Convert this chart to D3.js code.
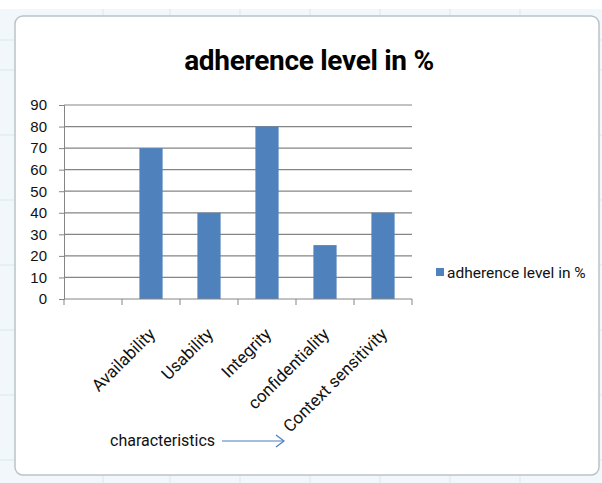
<!DOCTYPE html>
<html>
<head>
<meta charset="utf-8">
<script src="https://cdn.jsdelivr.net/npm/d3@7"></script>
<style>
  html, body { margin: 0; padding: 0; background: #fff; }
  svg { display: block; font-family: "Roboto", "Noto Sans", sans-serif; }
</style>
</head>
<body>
<div id="chart"></div>
<script>
// chart data (first category slot is empty in the original)
const categories = ["", "Availability", "Usability", "Integrity", "confidentiality", "Context sensitivity"];
const values = [null, 70, 40, 80, 25, 40];
const yTicks = [0, 10, 20, 30, 40, 50, 60, 70, 80, 90];
const titleText = "adherence level in %";
const seriesName = "adherence level in %";
const axisNote = "characteristics";

const width = 602, height = 483;
const barColor = "#4f81bd";

const svg = d3.select("#chart").append("svg")
  .attr("width", width)
  .attr("height", height);

// spreadsheet strip around the chart object
svg.append("rect").attr("width", width).attr("height", height).attr("fill", "#f1f7fa");
[103, 170, 240, 310, 380, 450, 520].forEach(x => {
  svg.append("line").attr("x1", x).attr("x2", x).attr("y1", 0).attr("y2", height)
    .attr("stroke", "#dbe8ee");
});
[40, 70, 135, 200, 265, 330, 395, 460].forEach(y => {
  svg.append("line").attr("x1", 0).attr("x2", width).attr("y1", y).attr("y2", y)
    .attr("stroke", "#dbe8ee");
});
svg.append("rect").attr("x", 0).attr("y", 0).attr("width", width).attr("height", 9).attr("fill", "#fff");

// chart frame
svg.append("rect")
  .attr("x", 15).attr("y", 16).attr("width", 584).attr("height", 459)
  .attr("rx", 8).attr("fill", "#fff")
  .attr("stroke", "#b9c3c8").attr("stroke-width", 1.5);

const plot = { left: 64, right: 412, top: 105, bottom: 299 };

const x = d3.scaleBand()
  .domain(categories.map((c, i) => i))
  .range([plot.left, plot.right])
  .paddingInner(0.6)
  .paddingOuter(0.3);

const y = d3.scaleLinear()
  .domain([0, 90])
  .range([plot.bottom, plot.top]);

// gridlines
svg.append("g")
  .selectAll("line")
  .data(yTicks.filter(t => t > 0))
  .join("line")
  .attr("x1", plot.left).attr("x2", plot.right)
  .attr("y1", d => y(d)).attr("y2", d => y(d))
  .attr("stroke", "#858585").attr("stroke-width", 1.2);

// y axis
const yAxis = svg.append("g")
  .attr("transform", `translate(${plot.left},0)`)
  .call(d3.axisLeft(y).tickValues(yTicks).tickSize(5).tickPadding(12));
yAxis.select(".domain").attr("stroke", "#858585");
yAxis.selectAll(".tick line").attr("stroke", "#858585");
yAxis.selectAll(".tick text")
  .attr("font-family", "inherit").attr("font-size", 15).attr("fill", "#111");

// bars
svg.append("g")
  .selectAll("rect")
  .data(values.map((v, i) => ({ i, v })).filter(d => d.v != null))
  .join("rect")
  .attr("x", d => x(d.i))
  .attr("y", d => y(d.v))
  .attr("width", x.bandwidth())
  .attr("height", d => y(0) - y(d.v))
  .attr("fill", barColor);

// x axis line and ticks at category boundaries
const step = (plot.right - plot.left) / categories.length;
svg.append("line")
  .attr("x1", plot.left).attr("x2", plot.right)
  .attr("y1", plot.bottom).attr("y2", plot.bottom)
  .attr("stroke", "#858585");
svg.append("g")
  .selectAll("line")
  .data(d3.range(categories.length + 1))
  .join("line")
  .attr("x1", d => plot.left + d * step).attr("x2", d => plot.left + d * step)
  .attr("y1", plot.bottom).attr("y2", plot.bottom + 6)
  .attr("stroke", "#858585");

// rotated category labels
svg.append("g")
  .selectAll("text")
  .data(categories.map((c, i) => ({ c, i })).filter(d => d.c))
  .join("text")
  .attr("transform", d => `translate(${x(d.i) + x.bandwidth() / 2 + 1},${plot.bottom + 32}) rotate(-45)`)
  .attr("text-anchor", "end")
  .attr("dy", "0.35em")
  .attr("font-size", 17)
  .attr("fill", "#111")
  .text(d => d.c);

// title
svg.append("text")
  .attr("x", 309).attr("y", 70)
  .attr("text-anchor", "middle")
  .attr("font-size", 28).attr("font-weight", "bold")
  .attr("letter-spacing", -0.3)
  .attr("fill", "#000")
  .text(titleText);

// legend
svg.append("rect")
  .attr("x", 436).attr("y", 268).attr("width", 8).attr("height", 8)
  .attr("fill", barColor);
svg.append("text")
  .attr("x", 447).attr("y", 278)
  .attr("font-size", 15.5).attr("fill", "#111")
  .text(seriesName);

// axis note with arrow
svg.append("text")
  .attr("x", 110).attr("y", 446)
  .attr("font-size", 16).attr("fill", "#111")
  .text(axisNote);
svg.append("line")
  .attr("x1", 222).attr("x2", 283).attr("y1", 441).attr("y2", 441)
  .attr("stroke", "#4a7ebb").attr("stroke-width", 1.2);
svg.append("path")
  .attr("d", "M276,435 L284,441 L276,447")
  .attr("fill", "none").attr("stroke", "#4a7ebb").attr("stroke-width", 1.2);
</script>
</body>
</html>
